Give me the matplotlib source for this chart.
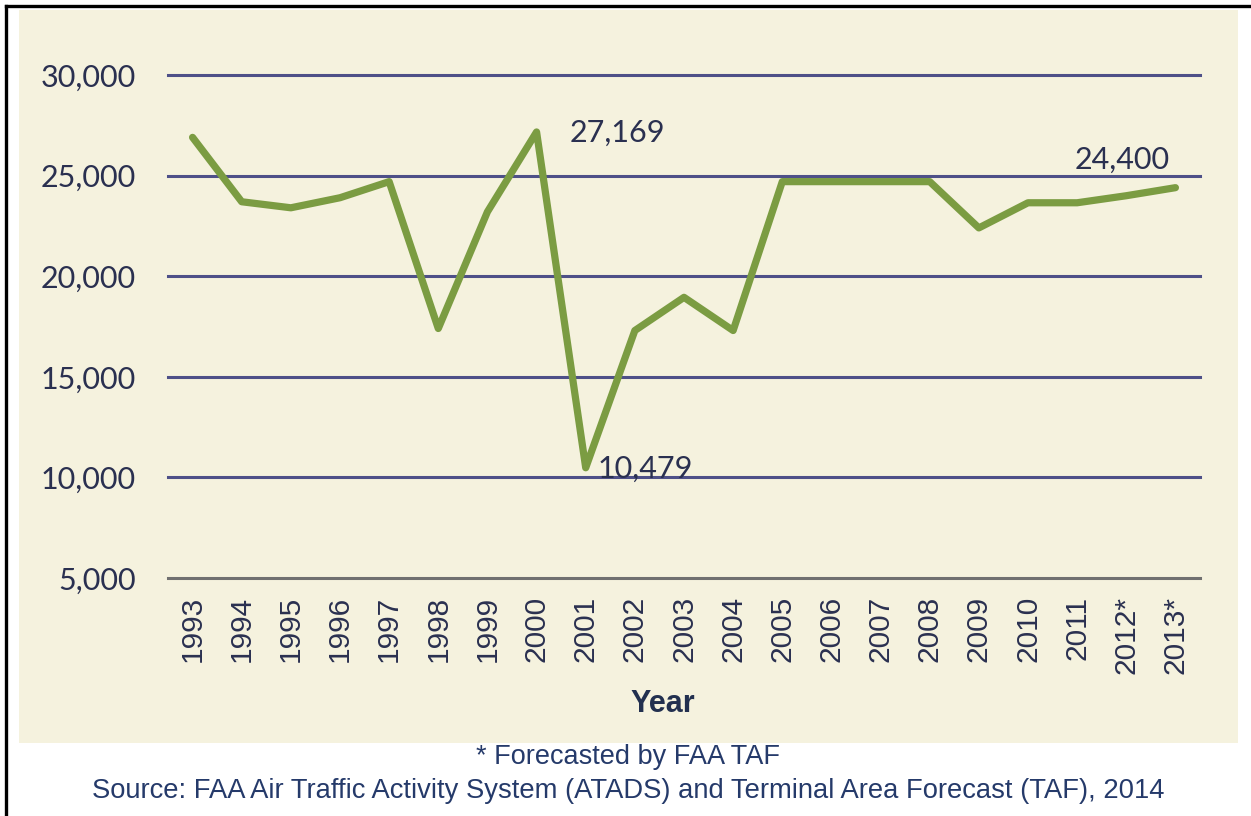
import matplotlib
matplotlib.use("Agg")
import matplotlib.pyplot as plt
from matplotlib.patches import Rectangle
from matplotlib.lines import Line2D

years = ["1993", "1994", "1995", "1996", "1997", "1998", "1999", "2000", "2001", "2002",
         "2003", "2004", "2005", "2006", "2007", "2008", "2009", "2010", "2011", "2012*", "2013*"]
operations = [26900, 23700, 23400, 23900, 24700, 17400, 23200, 27169, 10479, 17300,
              18950, 17300, 24700, 24700, 24700, 24700, 22400, 23650, 23650, 24000, 24400]
y_ticks = [5000, 10000, 15000, 20000, 25000, 30000]
annotations = [(7, 27169, "27,169"), (8, 10479, "10,479"), (20, 24400, "24,400")]

W, H = 1251, 816
fig = plt.figure(figsize=(W / 100, H / 100), dpi=100)
fig.patch.set_facecolor("white")

# panel background
fig.patches.append(Rectangle((19 / W, 1 - 743 / H), (1238 - 19) / W, (743 - 10) / H,
                             transform=fig.transFigure, facecolor="#f5f2de",
                             edgecolor="none", zorder=-5))
# black frame lines (top and left)
fig.add_artist(Line2D([6 / W, 1], [1 - 6 / H, 1 - 6 / H], transform=fig.transFigure,
                      color="black", lw=2.4))
fig.add_artist(Line2D([6 / W, 6 / W], [0, 1 - 6 / H], transform=fig.transFigure,
                      color="black", lw=2.4))

ax = fig.add_axes([168 / W, 1 - 578 / H, (1200 - 168) / W, (578 - 75) / H])
ax.set_zorder(2)
ax.set_facecolor("none")
x = list(range(len(years)))
ax.set_xlim(-0.5, len(years) - 0.5)
ax.set_ylim(5000, 30000)

for v in y_ticks:
    c = "#707070" if v == 5000 else "#4e5088"
    ax.axhline(v, color=c, lw=2.2, zorder=1, clip_on=False)

ax.plot(x, operations, color="#7b9c42", lw=5.2, solid_joinstyle="round",
        solid_capstyle="round", zorder=3, clip_on=False)

for s in ax.spines.values():
    s.set_visible(False)

ax.set_yticks(y_ticks)
ax.set_yticklabels([f"{v:,}" for v in y_ticks], fontsize=22, family="Lato", color="#2a3050")
ax.tick_params(axis="y", length=0, pad=23)
ax.set_xticks(x)
ax.set_xticklabels(years, rotation=90, fontsize=21.5, family="Liberation Sans", color="#2a3050")
ax.tick_params(axis="x", length=0, pad=13)

offsets = {"27,169": (570, 133), "10,479": (598, 469), "24,400": (1075, 160)}
for xi, yv, txt in annotations:
    px, py = offsets[txt]
    ax.annotate(txt, xy=(xi, yv), xytext=(px / W, 1 - py / H), textcoords="figure fraction",
                fontsize=22, family="Lato", color="#2a3050", ha="left", va="center")

fig.text(663 / W, 1 - 704 / H, "Year", fontsize=22, family="Liberation Sans", fontweight="bold",
         color="#22304f", ha="center", va="center")
fig.text(628 / W, 1 - 757 / H, "* Forecasted by FAA TAF", fontsize=19.5,
         family="Liberation Sans", color="#253a6a", ha="center", va="center")
fig.text(628 / W, 1 - 791 / H,
         "Source: FAA Air Traffic Activity System (ATADS) and Terminal Area Forecast (TAF), 2014",
         fontsize=19.7, family="Liberation Sans", color="#253a6a", ha="center", va="center")

fig.savefig("out.png", dpi=100)
